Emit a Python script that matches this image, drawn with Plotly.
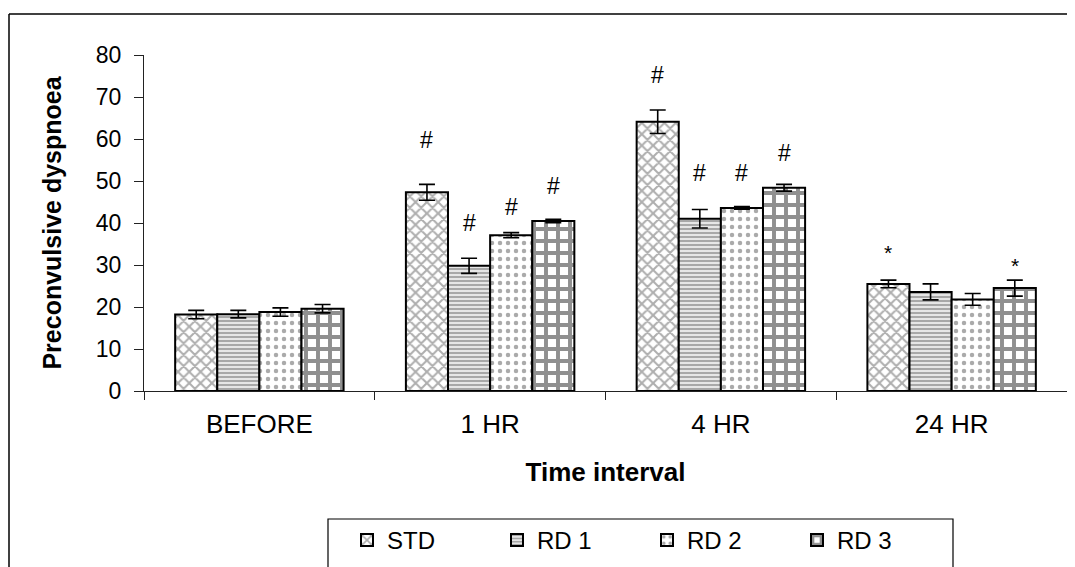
import plotly.graph_objects as go

categories = ["BEFORE", "1 HR", "4 HR", "24 HR"]
series_names = ["STD", "RD 1", "RD 2", "RD 3"]
std_vals = [18.2, 47.3, 64.1, 25.5]
std_err = [1.0, 1.9, 2.8, 0.9]
rd1_vals = [18.3, 29.8, 41.0, 23.6]
rd1_err = [0.9, 1.8, 2.2, 1.9]
rd2_vals = [18.8, 37.1, 43.6, 21.8]
rd2_err = [1.0, 0.6, 0.3, 1.4]
rd3_vals = [19.6, 40.5, 48.4, 24.5]
rd3_err = [1.0, 0.4, 0.8, 1.9]

# significance marks: (series index, category index, label, label height)
marks = [
    (0, 1, "#", 59.8), (1, 1, "#", 40.0), (2, 1, "#", 43.8), (3, 1, "#", 48.8),
    (0, 2, "#", 75.2), (1, 2, "#", 51.9), (2, 2, "#", 51.9), (3, 2, "#", 56.7),
    (0, 3, "*", 33.0), (3, 3, "*", 29.8),
]

values = [std_vals, rd1_vals, rd2_vals, rd3_vals]
errors = [std_err, rd1_err, rd2_err, rd3_err]
patterns = [
    dict(shape="x", fgcolor="#5e5e5e", bgcolor="white", size=8, solidity=0.45),
    dict(shape="-", fgcolor="#6a6a6a", bgcolor="#e6e6e6", size=4, solidity=0.5),
    dict(shape=".", fgcolor="#555555", bgcolor="white", size=8, solidity=0.25),
    dict(shape="+", fgcolor="#222222", bgcolor="white", size=12, solidity=0.55),
]

BARGAP = 0.27
FONT = "Liberation Sans, Arial, sans-serif"

fig = go.Figure()
for name, v, e, p in zip(series_names, values, errors, patterns):
    fig.add_trace(go.Bar(
        name=name, x=categories, y=v,
        marker=dict(color="white", pattern=p, line=dict(color="black", width=2)),
        error_y=dict(type="data", array=e, visible=True, color="black", thickness=1.6, width=8),
    ))

bar_w = (1 - BARGAP) / len(series_names)
for si, ci, label, h in marks:
    xpos = ci + (si - (len(series_names) - 1) / 2) * bar_w
    fig.add_annotation(x=xpos, y=h, text=label, showarrow=False, xref="x", yref="y",
                       font=dict(family=FONT, size=23 if label == "#" else 21, color="black"))

# page offset of the figure (body margin)
OFF = 8
W, H = 1075, 567
PL, PR, PT, PB = 144, 1067, 55, 391  # plot area in page pixels
L, T = PL - OFF, PT - OFF
R = W - (PR - OFF)
B = H - (PB - OFF)
pw, ph = PR - PL, PB - PT

def px_x(px):
    return (px - PL) / pw

def px_y(py):
    return (PB - py) / ph

# outer frame (top & left lines)
fig.add_shape(type="line", xref="paper", yref="paper", x0=px_x(9), x1=px_x(1090), y0=px_y(14), y1=px_y(14),
              line=dict(color="black", width=1.5))
fig.add_shape(type="line", xref="paper", yref="paper", x0=px_x(9), x1=px_x(9), y0=px_y(14), y1=px_y(620),
              line=dict(color="black", width=1.5))
# legend box
fig.add_shape(type="rect", xref="paper", yref="paper", x0=px_x(328), x1=px_x(953), y0=px_y(519), y1=px_y(620),
              line=dict(color="black", width=1.2), fillcolor="rgba(0,0,0,0)")

fig.update_layout(
    width=W, height=H,
    margin=dict(l=L, r=R, t=T, b=B, autoexpand=False),
    paper_bgcolor="white", plot_bgcolor="white",
    barmode="group", bargap=BARGAP, bargroupgap=0,
    font=dict(family=FONT, color="black"),
    showlegend=True,
    legend=dict(orientation="h", x=px_x(347), y=px_y(518), xanchor="left", yanchor="top",
                font=dict(family=FONT, size=24), entrywidth=105, entrywidthmode="pixels",
                bgcolor="rgba(0,0,0,0)", borderwidth=0, itemsizing="constant"),
    xaxis=dict(
        showline=True, linecolor="#222", linewidth=1.2, automargin=False,
        ticks="outside", tickson="boundaries", ticklen=8, tickcolor="#222",
        tickfont=dict(family=FONT, size=26), ticklabelstandoff=10,
        showgrid=False,
        title=dict(text="<b>Time interval</b>", font=dict(family=FONT, size=26), standoff=24),
    ),
    yaxis=dict(
        range=[0, 80], dtick=10, showline=True, linecolor="#222", linewidth=1.2, automargin=False,
        ticks="outside", ticklen=9, tickcolor="#222", ticklabelstandoff=8,
        tickfont=dict(family=FONT, size=23), showgrid=False, zeroline=False,
        title=dict(text="<b>Preconvulsive dyspnoea</b>", font=dict(family=FONT, size=25), standoff=26),
    ),
)

fig.write_html("out.html")
